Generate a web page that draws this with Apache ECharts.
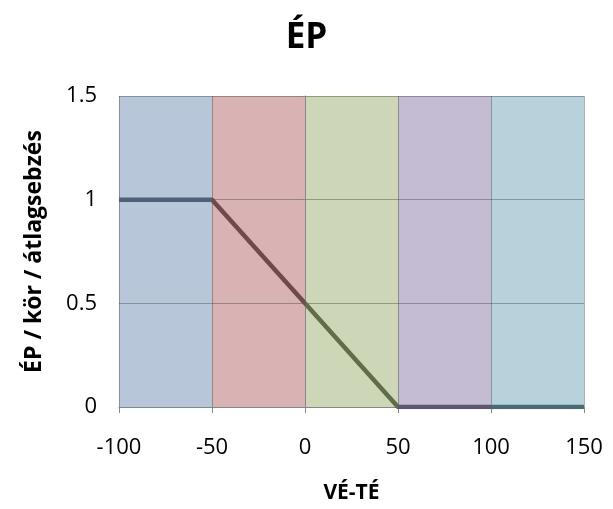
<!DOCTYPE html>
<html>
<head>
<meta charset="utf-8">
<script src="https://cdn.jsdelivr.net/npm/echarts@6/dist/echarts.min.js"></script>
<style>html,body{margin:0;padding:0;background:#fff}#c{width:613px;height:509px}</style>
</head>
<body>
<div id="c"></div>
<script>
// Data
var bandEdges = [-100, -50, 0, 50, 100, 150];
var bandColors = ['#b8c6d9', '#d9b3b3', '#cdd6b7', '#c4bcd2', '#b7d2da'];
var lineColors = ['#4f6178', '#6e4a4a', '#5f6e48', '#5e5570', '#4a6a73'];
var lineX = [-100, -50, 0, 50, 100, 150];
var lineY = [1, 1, 0.5, 0, 0, 0];
var xTicks = [-100, -50, 0, 50, 100, 150];
var yTicks = [0, 0.5, 1, 1.5];

var font = '"Open Sans", "DejaVu Sans", sans-serif';
var areas = [];
var pieces = [];
for (var i = 0; i < bandColors.length; i++) {
  areas.push([{xAxis: bandEdges[i], itemStyle: {color: bandColors[i]}}, {xAxis: bandEdges[i + 1]}]);
  pieces.push({gte: bandEdges[i], lt: bandEdges[i + 1] + (i === bandColors.length - 1 ? 1 : 0), color: lineColors[i]});
}
var lineData = lineX.map(function (x, i) { return [x, lineY[i]]; });

var chart = echarts.init(document.getElementById('c'));
chart.setOption({
  animation: false,
  title: {
    text: 'ÉP', left: 'center', top: 16,
    textStyle: {fontFamily: font, fontWeight: 'bold', fontSize: 35, color: '#000'}
  },
  grid: {left: 119, right: 29, top: 96, bottom: 102},
  xAxis: {
    type: 'value', min: -100, max: 150, interval: 50, z: 5,
    name: 'VÉ-TÉ', nameLocation: 'middle', nameGap: 76,
    nameTextStyle: {fontFamily: font, fontWeight: 'bold', fontSize: 21, color: '#000'},
    axisLine: {show: true, onZero: false, lineStyle: {color: '#868686', width: 1}},
    axisTick: {show: true, inside: false, length: 6, lineStyle: {color: '#868686'}},
    axisLabel: {fontFamily: font, fontSize: 22, color: '#000', margin: 30},
    splitLine: {show: true, lineStyle: {color: 'rgba(60,60,60,0.4)', width: 1}}
  },
  yAxis: {
    type: 'value', min: 0, max: 1.5, interval: 0.5, z: 5,
    name: 'ÉP / kör / átlagsebzés', nameLocation: 'middle', nameGap: 73, nameRotate: 90,
    nameTextStyle: {fontFamily: font, fontWeight: 'bold', fontSize: 23, color: '#000'},
    axisLine: {show: true, lineStyle: {color: '#868686', width: 1}},
    axisTick: {show: true, inside: false, length: 6, lineStyle: {color: '#868686'}},
    axisLabel: {fontFamily: font, fontSize: 22, color: '#000', margin: 22,
      formatter: function (v) { return String(v); }},
    splitLine: {show: true, lineStyle: {color: 'rgba(60,60,60,0.4)', width: 1}}
  },
  visualMap: {
    type: 'piecewise', show: false, dimension: 0, seriesIndex: 1, pieces: pieces
  },
  series: [
    {
      type: 'line', data: [], z: 1, silent: true,
      markArea: {silent: true, z: 1, itemStyle: {opacity: 1}, data: areas}
    },
    {
      type: 'line', data: lineData, z: 10, symbol: 'none',
      lineStyle: {width: 4.5}
    }
  ]
});
</script>
</body>
</html>
